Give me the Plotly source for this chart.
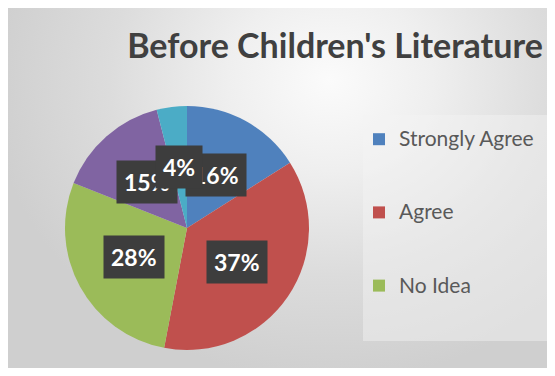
import math
import plotly.graph_objects as go

# ---- data ----
categories = ["Strongly Agree", "Agree", "No Idea", "Disagree", "Strongly Disagree"]
values = [16, 37, 28, 15, 4]
colors = ["#4F81BD", "#C0504D", "#9BBB59", "#8064A2", "#4BACC6"]
legend_shown = 3  # the legend box only has room for the first three entries
title_text = "Before Children's Literature"

# page geometry: the figure div sits 8px in from the page's top-left corner
OX, OY = 8, 8
W, H = 547, 360
# pie geometry (page pixels)
CX, CY, R = 187, 228, 122


def px_x(x):
    return (x - OX) / W


def px_y(y):
    return 1 - (y - OY) / H


fig = go.Figure()

# background radial gradient (chart area)
GX, GY, GRX, GRY = 330, 80, 340, 300
fig.add_trace(go.Scatter(
    x=[GX - GRX, GX + GRX, GX + GRX, GX - GRX, GX - GRX],
    y=[GY - GRY, GY - GRY, GY + GRY, GY + GRY, GY - GRY],
    mode="none", fill="toself",
    fillgradient=dict(type="radial",
                      colorscale=[[0, "#fbfbfb"], [0.3, "#efefef"], [0.65, "#dcdcdc"], [1, "#cfcfcf"]]),
    hoverinfo="skip", showlegend=False,
))

# legend labels: extra blank lines give the wide Excel-style spacing
legend_labels = ["<span style='font-size:21px'>" + c + "</span><br>\u00a0<br>\u00a0" for c in categories]

# legend-source pie (tiny, hidden behind the main pie) carrying only the visible legend entries
fig.add_trace(go.Pie(
    labels=legend_labels[:legend_shown], values=values[:legend_shown],
    marker=dict(colors=colors[:legend_shown]),
    sort=False, direction="clockwise", textinfo="none", hoverinfo="skip",
    domain=dict(x=[px_x(CX) - 0.0005, px_x(CX) + 0.0005], y=[px_y(CY) - 0.0005, px_y(CY) + 0.0005]),
    showlegend=True,
))

# main pie
fig.add_trace(go.Pie(
    labels=categories, values=values,
    marker=dict(colors=colors, line=dict(width=0)),
    sort=False, direction="clockwise", rotation=0,
    textinfo="none", hoverinfo="label+percent",
    domain=dict(x=[px_x(CX - R), px_x(CX + R)], y=[px_y(CY + R), px_y(CY - R)]),
    showlegend=False,
))

# data labels in dark boxes, placed at half radius on each slice's middle angle
total = sum(values)
annotations = []
cum = 0
for v in values:
    mid = (cum + v / 2) / total * 2 * math.pi
    cum += v
    lx = CX + 0.5 * R * math.sin(mid)
    ly = CY - 0.5 * R * math.cos(mid)
    annotations.append(dict(
        x=px_x(lx), y=px_y(ly), xref="paper", yref="paper",
        text=f"{round(v / total * 100)}%", showarrow=False,
        font=dict(family="Lato", size=23, color="white", weight="bold"),
        bgcolor="#3d3d3d", borderpad=7, xanchor="center", yanchor="middle",
    ))

fig.update_layout(
    width=W, height=H,
    margin=dict(l=0, r=0, t=0, b=0),
    paper_bgcolor="white",
    plot_bgcolor="#d2d2d2",
    xaxis=dict(domain=[0, 1], range=[OX, OX + W], visible=False, fixedrange=True),
    yaxis=dict(domain=[0, 1], range=[OY + H, OY], visible=False, fixedrange=True),
    title=dict(text=title_text, x=px_x(335), xanchor="center", y=px_y(46), yanchor="middle",
               xref="paper", yref="paper",
               font=dict(family="Lato", size=34, color="#404040", weight="bold")),
    legend=dict(x=px_x(359), xanchor="left", y=px_y(121), yanchor="top",
                bgcolor="rgba(0,0,0,0)", valign="top",
                font=dict(family="Lato", size=18, color="#595959")),
    shapes=[dict(type="rect", xref="paper", yref="paper", layer="above",
                 x0=px_x(363), x1=px_x(550), y0=px_y(341), y1=px_y(115),
                 fillcolor="rgba(245,245,245,0.45)", line=dict(width=0))],
    annotations=annotations,
)

fig.write_html("out.html", config={"displayModeBar": False})
